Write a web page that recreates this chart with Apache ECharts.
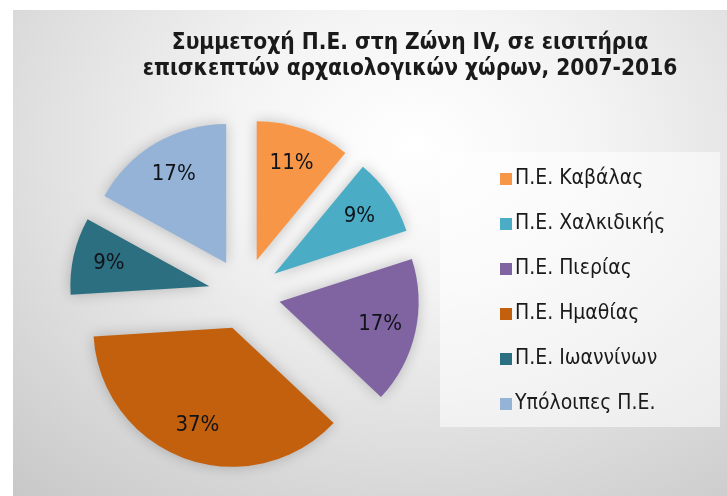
<!DOCTYPE html>
<html>
<head>
<meta charset="utf-8">
<script src="https://cdn.jsdelivr.net/npm/echarts@6/dist/echarts.min.js"></script>
<style>
  html, body { margin: 0; padding: 0; background: #ffffff; width: 727px; height: 496px; overflow: hidden; }
  #chart {
    position: absolute; left: 13px; top: 10px; width: 714px; height: 486px;
    background: radial-gradient(ellipse 85% 95% at 56% 28%, #ffffff 0%, #f4f4f4 30%, #dedede 65%, #c8c8c8 100%);
  }
</style>
</head>
<body>
<div id="chart"></div>
<script>
// ---- data ----
const categories = ['Π.Ε. Καβάλας', 'Π.Ε. Χαλκιδικής', 'Π.Ε. Πιερίας', 'Π.Ε. Ημαθίας', 'Π.Ε. Ιωαννίνων', 'Υπόλοιπες Π.Ε.'];
const shares = [11, 9, 17, 37, 9, 17];
const titleLines = ['Συμμετοχή Π.Ε. στη Ζώνη IV, σε εισιτήρια', 'επισκεπτών αρχαιολογικών χώρων, 2007-2016'];
const colors = ['#F79646', '#4BACC6', '#8064A2', '#C3600E', '#2B6F80', '#95B3D7'];

const NARROW = "'Liberation Sans Narrow', 'DejaVu Sans Condensed', 'Noto Sans', sans-serif";

const chart = echarts.init(document.getElementById('chart'), null, { renderer: 'canvas' });

const pieCenter = [231.5, 284];
const pieRadius = 139;
const explode = 36;

const option = {
  backgroundColor: 'transparent',
  animation: false,
  color: colors,
  graphic: [
    {
      type: 'rect', z: 0,
      shape: { x: 427, y: 142, width: 280, height: 275 },
      style: { fill: 'rgba(255,255,255,0.55)' },
      silent: true
    },
    {
      type: 'text', z: 10,
      x: 397, y: 46,
      style: {
        text: titleLines.join('\n'),
        fontFamily: NARROW,
        fontWeight: 'bold',
        fontSize: 22.5,
        lineHeight: 26,
        fill: '#1a1a1a',
        align: 'center',
        verticalAlign: 'middle'
      },
      silent: true
    }
  ],
  legend: {
    orient: 'vertical',
    left: 482,
    top: 153,
    itemWidth: 12,
    itemHeight: 12,
    itemGap: 23,
    icon: 'rect',
    data: categories,
    selectedMode: false,
    textStyle: { fontFamily: NARROW, fontSize: 21, color: '#1a1a1a', lineHeight: 22, padding: [0, 0, 0, -2] }
  },
  series: [
    {
      type: 'pie',
      center: pieCenter,
      radius: pieRadius,
      startAngle: 90,
      clockwise: true,
      selectedMode: 'multiple',
      selectedOffset: explode,
      silent: true,
      label: { show: false },
      labelLine: { show: false },
      emphasis: { disabled: true },
      itemStyle: { shadowBlur: 14, shadowColor: 'rgba(0,0,0,0.22)' },
      data: categories.map((n, i) => ({ name: n, value: shares[i], selected: true }))
    },
    {
      type: 'pie',
      center: pieCenter,
      radius: [61, pieRadius],
      startAngle: 90,
      clockwise: true,
      selectedMode: 'multiple',
      selectedOffset: explode,
      silent: true,
      legendHoverLink: false,
      itemStyle: { opacity: 0 },
      emphasis: { disabled: true },
      labelLine: { show: false },
      label: {
        show: true,
        position: 'inside',
        formatter: p => p.value + '%',
        fontFamily: NARROW,
        fontSize: 22,
        color: '#10131a',
        opacity: 1
      },
      data: categories.map((n, i) => ({ name: n, value: shares[i], selected: true }))
    }
  ]
};
chart.setOption(option);
</script>
</body>
</html>
